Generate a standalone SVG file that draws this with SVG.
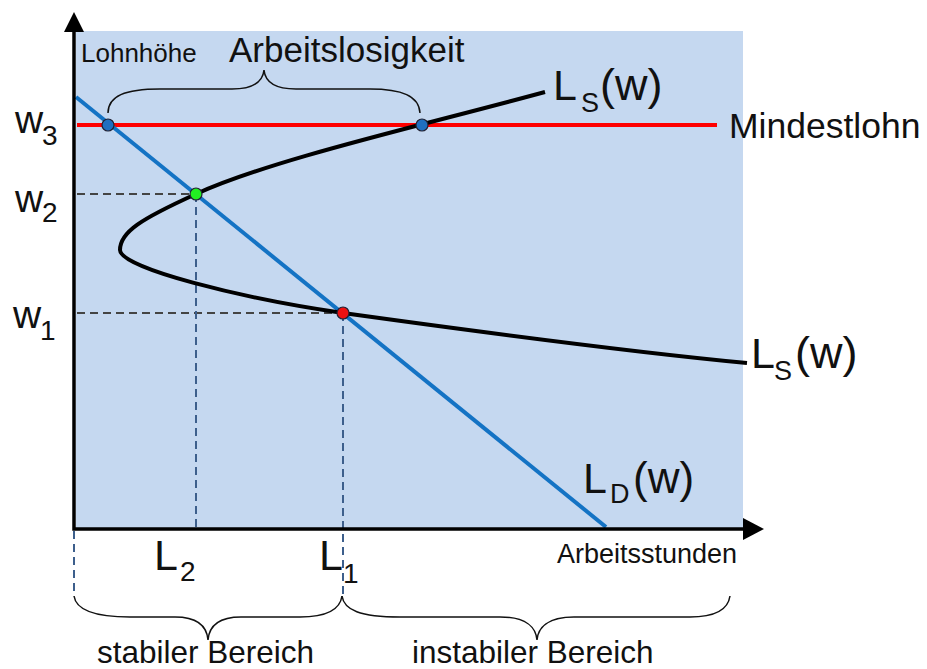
<svg xmlns="http://www.w3.org/2000/svg" width="927" height="669" viewBox="0 0 927 669">
<style>
text{font-family:"Liberation Sans",Arial,sans-serif;fill:#111}
.axis{stroke:#000;stroke-width:3.5;fill:none}
.dh{stroke:#444;stroke-width:2;stroke-dasharray:8,5;fill:none}
.dv{stroke:#3d5f8c;stroke-width:2;stroke-dasharray:8,5;fill:none}
.brace{stroke:#111;stroke-width:1.5;fill:none}
.dot{stroke:#223;stroke-width:1.2}
</style>
<rect id="plot-bg" x="76" y="31" width="667" height="498" fill="#c5d8f0"/>
<g id="connectors">
  <path class="dh" d="M77,194 H196"/>
  <path class="dh" d="M77,313 H343"/>
  <path class="dv" d="M196,194 V528"/>
  <path class="dv" d="M343,313 V596"/>
  <path class="dv" d="M74,531 V596"/>
  <path id="mindestlohn-line" d="M77,125 H717" stroke="#ff0000" stroke-width="4" fill="none"/>
  <path id="LD" d="M76,97 L606,527" stroke="#1473c4" stroke-width="4" fill="none"/>
  <path id="LS" d="M545,92 C420,126 270,160 196,194 C141,219 120,232 120,250 C120,268 240,298 343,313 C480,332 620,351 747,363" stroke="#000" stroke-width="4" fill="none"/>
  <path class="axis" d="M74,30 V529 H745"/>
  <polygon points="74,12 64,32 84,32" fill="#000"/>
  <polygon points="764,529 743,518 743,540" fill="#000"/>
  <path class="brace" d="M108,113 C108,96 125,89 160,89 L232,89 C256,89 263,80 264,70 C265,80 272,89 296,89 L370,89 C402,89 419,96 420,113"/>
  <path class="brace" d="M74,596 C76,610 95,617 130,617 L175,617 C200,617 207,628 208,640 C209,628 216,617 241,617 L300,617 C325,617 340,610 342,596"/>
  <path class="brace" d="M342,596 C344,610 360,617 400,617 L500,617 C527,617 536,628 537,640 C538,628 547,617 574,617 L690,617 C715,617 728,610 730,596"/>
</g>
<g id="node-w3-ld"><circle class="dot" cx="108" cy="125" r="6" fill="#1f6fc0"/></g>
<g id="node-w3-ls"><circle class="dot" cx="422" cy="125" r="6" fill="#1f6fc0"/></g>
<g id="node-w2"><circle class="dot" cx="196" cy="194" r="6" fill="#22ee22"/></g>
<g id="node-w1"><circle class="dot" cx="343" cy="313" r="6" fill="#ee1111"/></g>
<g id="labels">
  <text x="81" y="62" font-size="26">Lohnhöhe</text>
  <text x="229" y="62" font-size="35">Arbeitslosigkeit</text>
  <text x="729" y="138" font-size="35.5">Mindestlohn</text>
  <text x="15" y="133" font-size="39">w</text><text x="42" y="145" font-size="28">3</text>
  <text x="15" y="212" font-size="39">w</text><text x="42" y="222" font-size="28">2</text>
  <text x="13" y="328" font-size="39">w</text><text x="40" y="340" font-size="28">1</text>
  <text x="553" y="100" font-size="43">L</text><text x="581" y="112" font-size="27">S</text><text x="600" y="100" font-size="45">(w)</text>
  <text x="751" y="368" font-size="43">L</text><text x="774" y="380" font-size="27">S</text><text x="795" y="368" font-size="45">(w)</text>
  <text x="583" y="493" font-size="43">L</text><text x="610" y="503" font-size="27">D</text><text x="633" y="493" font-size="44">(w)</text>
  <text x="154" y="570" font-size="43">L</text><text x="180" y="581" font-size="28">2</text>
  <text x="319" y="570" font-size="43">L</text><text x="343" y="583" font-size="28">1</text>
  <text x="557" y="563" font-size="27">Arbeitsstunden</text>
  <text x="97" y="663" font-size="31.5">stabiler Bereich</text>
  <text x="412" y="663" font-size="31.5">instabiler Bereich</text>
</g>
</svg>
